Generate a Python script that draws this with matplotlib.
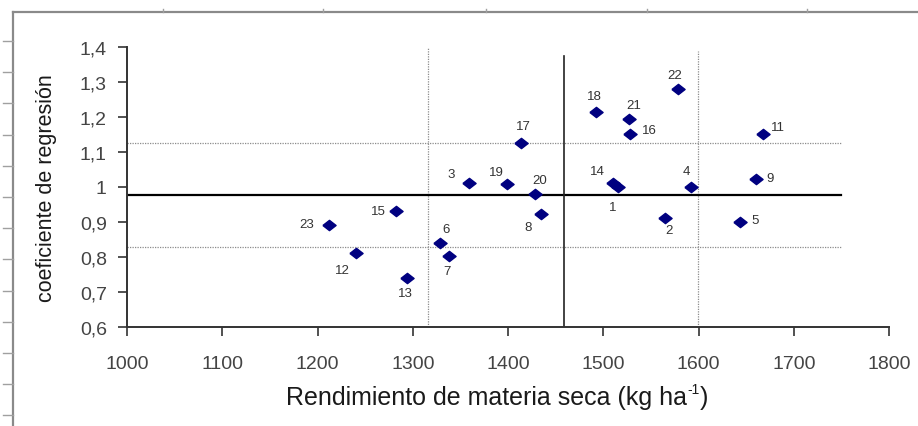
import matplotlib
matplotlib.use("Agg")
import matplotlib.pyplot as plt
from matplotlib.lines import Line2D

# ---- data ----
genotypes = [1, 2, 3, 4, 5, 6, 7, 8, 9, 11, 12, 13, 14, 15, 16, 17, 18, 19, 20, 21, 22, 23]
yield_kg = [1515, 1565, 1359, 1592, 1644, 1329, 1338, 1435, 1660, 1668, 1240, 1294,
            1510, 1282, 1528, 1414, 1492, 1399, 1428, 1527, 1578, 1212]
coef_reg = [0.998, 0.911, 1.010, 1.000, 0.898, 0.838, 0.801, 0.922, 1.021, 1.150, 0.810, 0.739,
            1.010, 0.930, 1.150, 1.124, 1.213, 1.008, 0.979, 1.193, 1.279, 0.891]

x_mean = 1459
x_low, x_high = 1316, 1599
y_mean = 0.977
y_low, y_high = 0.827, 1.124

xticks = [1000, 1100, 1200, 1300, 1400, 1500, 1600, 1700, 1800]
yticks = [0.6, 0.7, 0.8, 0.9, 1.0, 1.1, 1.2, 1.3, 1.4]
ytick_labels = ["0,6", "0,7", "0,8", "0,9", "1", "1,1", "1,2", "1,3", "1,4"]

# label offsets in pixels (dx right, dy down)
label_offsets = {1: (-5, 20), 2: (4, 12), 3: (-18, -9), 4: (-5, -16), 5: (15, -2),
                 6: (6, -14), 7: (-2, 15), 8: (-13, 13), 9: (14, -1), 11: (15, -7),
                 12: (-13, 17), 13: (-2, 15), 14: (-15, -12), 15: (-17, 0), 16: (19, -4),
                 17: (2, -17), 18: (-1, -16), 19: (-11, -12), 20: (5, -14), 21: (5, -14),
                 22: (-3, -14), 23: (-22, -1)}

plt.rcParams['font.family'] = ['Liberation Sans', 'DejaVu Sans']

W, H = 918, 427
fig = plt.figure(figsize=(W / 100, H / 100), dpi=100)
fig.patch.set_facecolor('white')

# outer frame decoration
frame_col = '#8a8a8a'
fig.add_artist(Line2D([13 / W, 13 / W], [0, 1 - 13 / H], color=frame_col, lw=1.6, transform=fig.transFigure))
fig.add_artist(Line2D([13 / W, 1], [1 - 13 / H, 1 - 13 / H], color=frame_col, lw=1.6, transform=fig.transFigure))
for k in range(13):
    yy = 42 + 31.2 * k
    fig.add_artist(Line2D([3 / W, 13 / W], [1 - yy / H, 1 - yy / H], color='#a0a0a0', lw=1.0,
                          transform=fig.transFigure))
for xx in [163, 323, 486, 647, 807]:
    fig.add_artist(Line2D([xx / W, xx / W], [1 - 10 / H, 1 - 13 / H], color='#a0a0a0', lw=1.0,
                          transform=fig.transFigure))

ax = fig.add_axes([127 / W, (H - 327.7) / H, (889 - 127) / W, (327.7 - 47.7) / H])
ax.set_xlim(1000, 1800)
ax.set_ylim(0.6, 1.4)
ax.patch.set_alpha(0)

for s in ['top', 'right']:
    ax.spines[s].set_visible(False)
for s in ['left', 'bottom']:
    ax.spines[s].set_color('#333333')
    ax.spines[s].set_linewidth(1.4)

# reference lines
dot = dict(color='#8c8c8c', lw=0.9, ls=(0, (1, 1)))
ax.plot([1000, 1750], [y_high, y_high], **dot)
ax.plot([1000, 1750], [y_low, y_low], **dot)
ax.plot([x_low, x_low], [0.6, 1.4], **dot)
ax.plot([x_high, x_high], [0.6, 1.388], **dot)
ax.plot([1000, 1750], [y_mean, y_mean], color='black', lw=1.6)
ax.plot([x_mean, x_mean], [0.6, 1.373], color='#222222', lw=1.2)

diamond = [(-1, 0), (0, 0.78), (1, 0), (0, -0.78), (-1, 0)]
ax.plot(yield_kg, coef_reg, ls='none', marker=diamond, ms=9.5, color='#000080', mec='#000080', zorder=5)

for g, x, y in zip(genotypes, yield_kg, coef_reg):
    dx, dy = label_offsets[g]
    ax.annotate(str(g), (x, y), xytext=(dx, -dy), textcoords='offset pixels',
                ha='center', va='center', fontsize=9.5, color='#333333')

ax.set_xticks(xticks)
ax.set_yticks(yticks)
ax.set_yticklabels(ytick_labels)
ax.tick_params(axis='both', direction='out', length=6.5, width=1.2, color='#333333',
               labelsize=14, labelcolor='#444444')
ax.tick_params(axis='y', pad=8)
ax.tick_params(axis='x', pad=14)

# x label built from pieces so the superscript is a small raised hyphen-1
renderer = fig.canvas.get_renderer()
xl_fs = 18
base_y = 405  # baseline in pixels from top
parts = [('Rendimiento de materia seca (kg ha', xl_fs, 0), ('-1', 10, 11), (')', xl_fs, 0)]
texts = []
for s, fs, rise in parts:
    t = fig.text(0, 0, s, fontsize=fs, color='#1a1a1a', ha='left', va='baseline')
    texts.append((t, rise))
widths = [t.get_window_extent(renderer).width for t, _ in texts]
total = sum(widths)
x0 = 497 - total / 2
for (t, rise), w in zip(texts, widths):
    t.set_position((x0 / W, 1 - (base_y - rise) / H))
    x0 += w

fig.text(47 / W, 1 - 188 / H, 'coeficiente de regresión', rotation=90,
         ha='center', va='center', fontsize=15.5, color='#1a1a1a')

fig.savefig('out.png', dpi=100)
